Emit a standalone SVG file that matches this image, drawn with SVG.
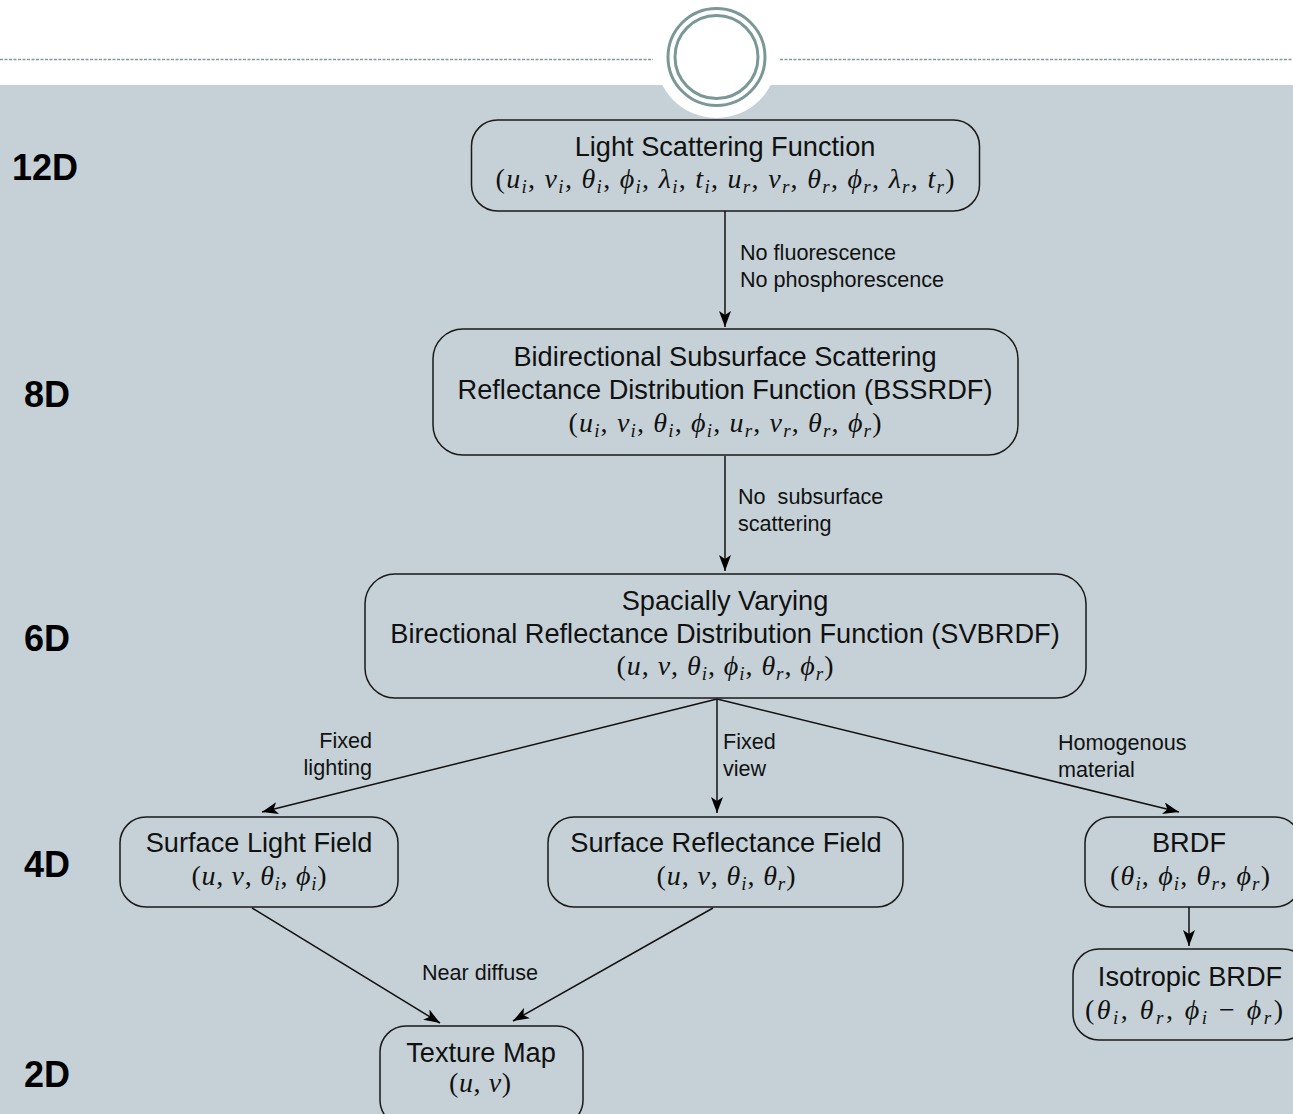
<svg xmlns="http://www.w3.org/2000/svg" width="1293" height="1114" viewBox="0 0 1293 1114">
<style>
.box{fill:none;stroke:#1a1a1a;stroke-width:1.5}
.t{font-family:"Liberation Sans",Arial,sans-serif;font-size:27.2px;fill:#111;text-anchor:middle}
.m{font-family:"Liberation Serif","Times New Roman",serif;font-size:28px;fill:#111;text-anchor:middle}
.v{font-style:italic}
.s{font-style:italic;font-size:19px}
.lbl{font-family:"Liberation Sans",Arial,sans-serif;font-size:21.6px;fill:#111}
.dim{font-family:"Liberation Sans",Arial,sans-serif;font-size:36px;font-weight:bold;fill:#000}
.edge{stroke:#111;stroke-width:1.5;fill:none;marker-end:url(#ah)}
</style>
<defs>
<marker id="ah" viewBox="0 0 16 12" refX="16" refY="6" markerWidth="16" markerHeight="12" markerUnits="userSpaceOnUse" orient="auto">
<path d="M0,0 L16,6 L0,12 L4,6 z" fill="#000"/>
</marker>
</defs>
<rect x="0" y="0" width="1293" height="1114" fill="#fff"/>
<rect x="0" y="85" width="1293" height="1029" fill="#c5d1d7"/>
<g id="header">
<line x1="0" y1="59.5" x2="653" y2="59.5" stroke="#7f9c9a" stroke-width="1.5" stroke-dasharray="3,1.5"/>
<line x1="780" y1="59.5" x2="1293" y2="59.5" stroke="#7f9c9a" stroke-width="1.5" stroke-dasharray="3,1.5"/>
<circle cx="716.5" cy="57" r="61" fill="#fff"/>
<circle cx="716.5" cy="57" r="48.5" fill="none" stroke="#7a9896" stroke-width="3"/>
<circle cx="716.5" cy="57" r="41.5" fill="none" stroke="#7a9896" stroke-width="3"/>
</g>
<g id="dims">
<text class="dim" x="12" y="180">12D</text>
<text class="dim" x="24" y="407">8D</text>
<text class="dim" x="24" y="651">6D</text>
<text class="dim" x="24" y="877">4D</text>
<text class="dim" x="24" y="1087">2D</text>
</g>
<g id="connectors">
<line class="edge" x1="725" y1="211" x2="725" y2="327"/>
<line class="edge" x1="725" y1="456" x2="725" y2="571"/>
<line class="edge" x1="717" y1="699" x2="262" y2="812"/>
<line class="edge" x1="717" y1="699" x2="717" y2="813"/>
<line class="edge" x1="717" y1="699" x2="1179" y2="812"/>
<line class="edge" x1="252" y1="908" x2="440" y2="1023"/>
<line class="edge" x1="713" y1="908" x2="513" y2="1021"/>
<line class="edge" x1="1189" y1="907" x2="1189" y2="946"/>
<text class="lbl" x="740" y="260">No fluorescence</text>
<text class="lbl" x="740" y="287">No phosphorescence</text>
<text class="lbl" x="738" y="504" xml:space="preserve">No  subsurface</text>
<text class="lbl" x="738" y="531">scattering</text>
<text class="lbl" x="372" y="748" text-anchor="end">Fixed</text>
<text class="lbl" x="372" y="775" text-anchor="end">lighting</text>
<text class="lbl" x="723" y="749">Fixed</text>
<text class="lbl" x="723" y="776">view</text>
<text class="lbl" x="1058" y="750">Homogenous</text>
<text class="lbl" x="1058" y="777">material</text>
<text class="lbl" x="480" y="980" text-anchor="middle">Near diffuse</text>
</g>
<g id="lsf">
<rect class="box" x="471.5" y="120" width="508" height="91" rx="26"/>
<text class="t" x="725" y="156">Light Scattering Function</text>
<text class="m" x="725" y="188" textLength="459" lengthAdjust="spacing">(<tspan class="v">u</tspan><tspan class="s" dy="5">i</tspan><tspan dy="-5">, </tspan><tspan class="v">v</tspan><tspan class="s" dy="5">i</tspan><tspan dy="-5">, </tspan><tspan class="v">θ</tspan><tspan class="s" dy="5">i</tspan><tspan dy="-5">, </tspan><tspan class="v">ϕ</tspan><tspan class="s" dy="5">i</tspan><tspan dy="-5">, </tspan><tspan class="v">λ</tspan><tspan class="s" dy="5">i</tspan><tspan dy="-5">, </tspan><tspan class="v">t</tspan><tspan class="s" dy="5">i</tspan><tspan dy="-5">, </tspan><tspan class="v">u</tspan><tspan class="s" dy="5">r</tspan><tspan dy="-5">, </tspan><tspan class="v">v</tspan><tspan class="s" dy="5">r</tspan><tspan dy="-5">, </tspan><tspan class="v">θ</tspan><tspan class="s" dy="5">r</tspan><tspan dy="-5">, </tspan><tspan class="v">ϕ</tspan><tspan class="s" dy="5">r</tspan><tspan dy="-5">, </tspan><tspan class="v">λ</tspan><tspan class="s" dy="5">r</tspan><tspan dy="-5">, </tspan><tspan class="v">t</tspan><tspan class="s" dy="5">r</tspan><tspan dy="-5">)</tspan></text>
</g>
<g id="bssrdf">
<rect class="box" x="433" y="329" width="585" height="126" rx="30"/>
<text class="t" x="725" y="366">Bidirectional Subsurface Scattering</text>
<text class="t" x="725" y="399">Reflectance Distribution Function (BSSRDF)</text>
<text class="m" x="725" y="432" textLength="313" lengthAdjust="spacing">(<tspan class="v">u</tspan><tspan class="s" dy="5">i</tspan><tspan dy="-5">, </tspan><tspan class="v">v</tspan><tspan class="s" dy="5">i</tspan><tspan dy="-5">, </tspan><tspan class="v">θ</tspan><tspan class="s" dy="5">i</tspan><tspan dy="-5">, </tspan><tspan class="v">ϕ</tspan><tspan class="s" dy="5">i</tspan><tspan dy="-5">, </tspan><tspan class="v">u</tspan><tspan class="s" dy="5">r</tspan><tspan dy="-5">, </tspan><tspan class="v">v</tspan><tspan class="s" dy="5">r</tspan><tspan dy="-5">, </tspan><tspan class="v">θ</tspan><tspan class="s" dy="5">r</tspan><tspan dy="-5">, </tspan><tspan class="v">ϕ</tspan><tspan class="s" dy="5">r</tspan><tspan dy="-5">)</tspan></text>
</g>
<g id="svbrdf">
<rect class="box" x="365" y="574" width="721" height="124" rx="30"/>
<text class="t" x="725" y="610">Spacially Varying</text>
<text class="t" x="725" y="643">Birectional Reflectance Distribution Function (SVBRDF)</text>
<text class="m" x="725" y="675" textLength="217" lengthAdjust="spacing">(<tspan class="v">u</tspan>, <tspan class="v">v</tspan>, <tspan class="v">θ</tspan><tspan class="s" dy="5">i</tspan><tspan dy="-5">, </tspan><tspan class="v">ϕ</tspan><tspan class="s" dy="5">i</tspan><tspan dy="-5">, </tspan><tspan class="v">θ</tspan><tspan class="s" dy="5">r</tspan><tspan dy="-5">, </tspan><tspan class="v">ϕ</tspan><tspan class="s" dy="5">r</tspan><tspan dy="-5">)</tspan></text>
</g>
<g id="slf">
<rect class="box" x="120" y="817" width="278" height="90" rx="26"/>
<text class="t" x="259" y="852">Surface Light Field</text>
<text class="m" x="259" y="885" textLength="135" lengthAdjust="spacing">(<tspan class="v">u</tspan>, <tspan class="v">v</tspan>, <tspan class="v">θ</tspan><tspan class="s" dy="5">i</tspan><tspan dy="-5">, </tspan><tspan class="v">ϕ</tspan><tspan class="s" dy="5">i</tspan><tspan dy="-5">)</tspan></text>
</g>
<g id="srf">
<rect class="box" x="548" y="817" width="355" height="90" rx="26"/>
<text class="t" x="726" y="852">Surface Reflectance Field</text>
<text class="m" x="726" y="885" textLength="139" lengthAdjust="spacing">(<tspan class="v">u</tspan>, <tspan class="v">v</tspan>, <tspan class="v">θ</tspan><tspan class="s" dy="5">i</tspan><tspan dy="-5">, </tspan><tspan class="v">θ</tspan><tspan class="s" dy="5">r</tspan><tspan dy="-5">)</tspan></text>
</g>
<g id="brdf">
<rect class="box" x="1085" y="817" width="216" height="90" rx="26"/>
<text class="t" x="1189" y="852">BRDF</text>
<text class="m" x="1190" y="885" textLength="160" lengthAdjust="spacing">(<tspan class="v">θ</tspan><tspan class="s" dy="5">i</tspan><tspan dy="-5">, </tspan><tspan class="v">ϕ</tspan><tspan class="s" dy="5">i</tspan><tspan dy="-5">, </tspan><tspan class="v">θ</tspan><tspan class="s" dy="5">r</tspan><tspan dy="-5">, </tspan><tspan class="v">ϕ</tspan><tspan class="s" dy="5">r</tspan><tspan dy="-5">)</tspan></text>
</g>
<g id="isotropic">
<rect class="box" x="1073" y="949" width="236" height="91" rx="26"/>
<text class="t" x="1190" y="986">Isotropic BRDF</text>
<text class="m" x="1184" y="1019" textLength="198" lengthAdjust="spacing">(<tspan class="v">θ</tspan><tspan class="s" dy="5">i</tspan><tspan dy="-5">, </tspan><tspan class="v">θ</tspan><tspan class="s" dy="5">r</tspan><tspan dy="-5">, </tspan><tspan class="v">ϕ</tspan><tspan class="s" dy="5">i</tspan><tspan dy="-5"> − </tspan><tspan class="v">ϕ</tspan><tspan class="s" dy="5">r</tspan><tspan dy="-5">)</tspan></text>
</g>
<g id="texture">
<rect class="box" x="380" y="1026" width="203" height="100" rx="26"/>
<text class="t" x="481" y="1062">Texture Map</text>
<text class="m" x="480" y="1092" textLength="62" lengthAdjust="spacing">(<tspan class="v">u</tspan>, <tspan class="v">v</tspan>)</text>
</g>
</svg>
